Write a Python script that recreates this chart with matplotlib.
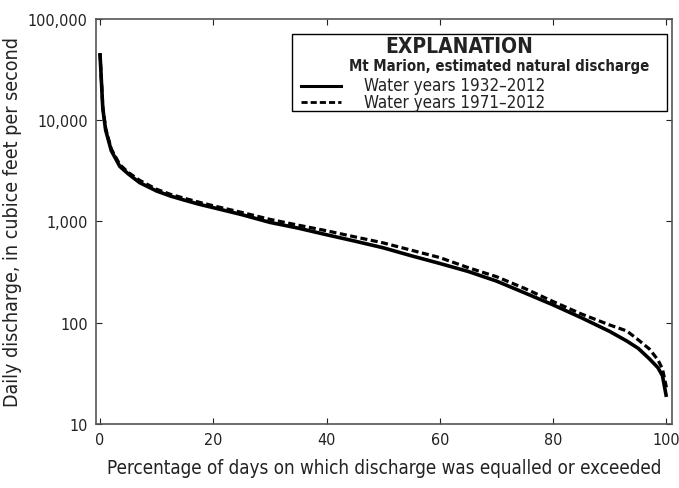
import numpy as np
import matplotlib.pyplot as plt
from matplotlib.ticker import FuncFormatter, FixedLocator, NullLocator

plt.rcParams['font.family'] = ['DejaVu Sans']
plt.rcParams['font.stretch'] = 'condensed'

# percent of days equalled or exceeded
pct = [0, 0.5, 1, 2, 3.5, 5, 7, 10, 12.5, 15, 17.5, 20, 25, 30, 35, 40, 45, 50,
       55, 60, 65, 70, 75, 80, 85, 90, 93, 95, 97, 98.5, 99.3, 100]

# water years 1932-2012 (solid)
q_1932 = [46000, 13000, 8000, 5000, 3500, 2950, 2420, 2000, 1780, 1620, 1480,
          1370, 1170, 980, 860, 740, 640, 550, 458, 385, 321, 258, 197, 150,
          112, 82, 66, 56, 44, 36, 30, 18.5]

# water years 1971-2012 (dashed)
q_1971 = [46000, 13500, 8300, 5200, 3650, 3050, 2550, 2080, 1850, 1690, 1550,
          1430, 1230, 1050, 920, 810, 705, 615, 520, 440, 350, 285, 218, 162,
          122, 95, 83, 68, 55, 43, 35, 23]

xticks = [0, 20, 40, 60, 80, 100]
yticks = [10, 100, 1000, 10000, 100000]

fig = plt.figure(figsize=(6.79, 4.89), dpi=100)
ax = fig.add_axes([0.1414, 0.1309, 0.8484, 0.8282])

ax.plot(pct, q_1932, color='black', lw=2.6, solid_capstyle='butt')
ax.plot(pct, q_1971, color='black', lw=2.3, dashes=(2.2, 1.1))

ax.set_yscale('log')
ax.set_xlim(-0.7, 101)
ax.set_ylim(10, 100000)
ax.xaxis.set_major_locator(FixedLocator(xticks))
ax.yaxis.set_major_locator(FixedLocator(yticks))
ax.yaxis.set_minor_locator(NullLocator())
ax.yaxis.set_major_formatter(FuncFormatter(lambda v, p: f'{int(v):,}'))

ax.tick_params(direction='in', top=True, right=True, length=4, width=0.8,
               labelsize=11.5, colors='#222222', pad=6)
for s in ax.spines.values():
    s.set_color('#555555')
    s.set_linewidth(1.2)

ax.set_xlabel('Percentage of days on which discharge was equalled or exceeded',
              fontsize=13.5, color='#222222', labelpad=8)
ax.set_ylabel('Daily discharge, in cubice feet per second',
              fontsize=14, color='#222222', labelpad=4)

# explanation box
bx0, bx1 = 0.341, 0.991
by0, by1 = 0.772, 0.963
ax.add_patch(plt.Rectangle((bx0, by0), bx1 - bx0, by1 - by0, transform=ax.transAxes,
                           fill=True, facecolor='white', edgecolor='black', lw=1.0, zorder=5))
ax.text(0.631, 0.933, 'EXPLANATION', transform=ax.transAxes, ha='center', va='center',
        fontsize=15, fontweight='bold', color='#222222', zorder=6)
ax.text(0.44, 0.884, 'Mt Marion, estimated natural discharge', transform=ax.transAxes,
        ha='left', va='center', fontsize=10.7, fontweight='bold', color='#222222', zorder=6)
ax.plot([0.355, 0.425], [0.835, 0.835], transform=ax.transAxes, color='black', lw=2.2, zorder=6)
ax.plot([0.355, 0.425], [0.794, 0.794], transform=ax.transAxes, color='black', lw=2.0,
        dashes=(2.2, 1.1), zorder=6)
ax.text(0.466, 0.837, 'Water years 1932\u20132012', transform=ax.transAxes, ha='left',
        va='center', fontsize=12.2, color='#222222', zorder=6)
ax.text(0.466, 0.796, 'Water years 1971\u20132012', transform=ax.transAxes, ha='left',
        va='center', fontsize=12.2, color='#222222', zorder=6)

fig.savefig('out.png', dpi=100)
